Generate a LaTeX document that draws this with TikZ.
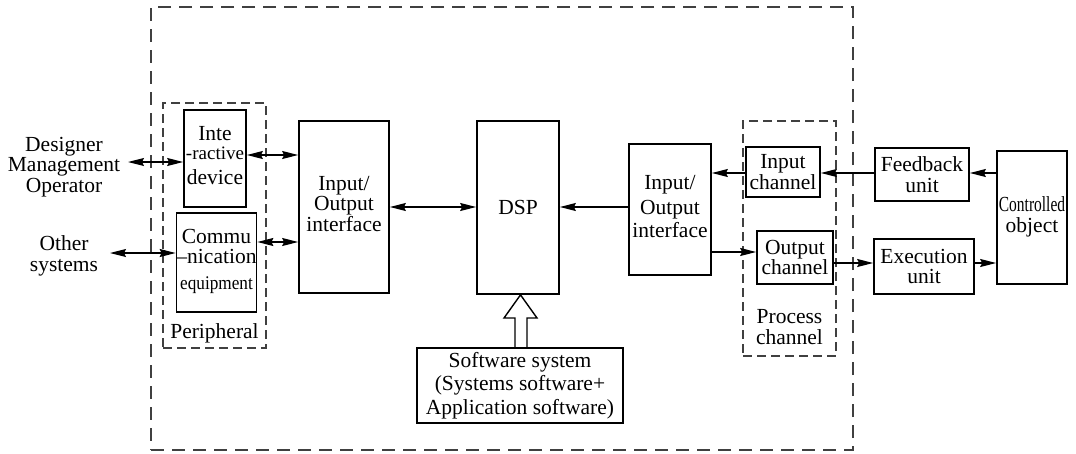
\documentclass[tikz,border=0pt]{standalone}
\usepackage{fontspec}
\setmainfont{Liberation Serif}
\usetikzlibrary{arrows.meta}
\newcommand{\stk}[2][0pt]{\raisebox{#1}{\begin{tabular}{@{}c@{}}#2\end{tabular}}}
\begin{document}
\begin{tikzpicture}[x=1pt,y=-1pt,
  blk/.style={draw, line width=1.7pt, inner sep=0pt, align=center, font=\fontsize{21.5}{20.5}\selectfont},
  lbl/.style={inner sep=0pt, align=center, font=\fontsize{21.5}{20.5}\selectfont},
  con/.style={line width=1.2pt, -{Stealth[length=16pt,width=8pt,inset=2pt]}},
  bicon/.style={line width=1.2pt, {Stealth[length=16pt,width=8pt,inset=2pt]}-{Stealth[length=16pt,width=8pt,inset=2pt]}},
  dashbox/.style={draw, line width=1.3pt, dash pattern=on 9pt off 5pt, color=black!75, inner sep=0pt},
  outerbox/.style={draw, line width=1.3pt, dash pattern=on 13pt off 8pt, color=black!75, inner sep=0pt}]
\useasboundingbox (0,0) rectangle (1076,453);

% dashed frames
\node[outerbox, minimum width=702pt, minimum height=443pt] (outer) at (502,228.5) {};
\node[dashbox, minimum width=103pt, minimum height=245pt] (periph) at (214.5,225.5) {};
\node[dashbox, minimum width=93pt, minimum height=235pt] (proc) at (789.5,238.5) {};
\node[lbl] (periphlbl) at (214.5,333) {Peripheral};
\node[lbl] (proclbl) at (789.5,327) {Process\\channel};

% external labels
\node[lbl] (users) at (64,167) {Designer\\Management\\Operator};
\node[lbl] (others) at (64,256) {Other\\systems};

% blocks
\node[blk, minimum width=62pt, minimum height=97pt] (inter) at (215,158.5)
  {\stk[5pt]{Inte\\[-1pt]{\fontsize{19}{20}\selectfont -ractive}\\[4pt]device}};
\node[blk, minimum width=79pt, minimum height=99pt] (comm) at (216.5,262.5)
  {\stk[-4pt]{Commu\\[-1pt]–nication\\[6pt]\scalebox{0.8}[0.9]{equipment}}};
\node[blk, minimum width=90pt, minimum height=172pt] (io1) at (344,207)
  {\stk[10pt]{Input/\\Output\\interface}};
\node[blk, minimum width=82pt, minimum height=173pt] (dsp) at (518,207.5) {DSP};
\node[blk, minimum width=82pt, minimum height=131pt] (io2) at (670,209.5)
  {\stk[2pt]{Input/\\[4pt]Output\\[2pt]interface}};
\node[blk, minimum width=74pt, minimum height=50pt] (inch) at (783,172) {Input\\channel};
\node[blk, minimum width=76pt, minimum height=53pt] (outch) at (795,257.5) {Output\\channel};
\node[blk, minimum width=94pt, minimum height=53pt] (fb) at (922,174.5) {Feedback\\unit};
\node[blk, minimum width=100pt, minimum height=55pt] (exe) at (924,266.5) {Execution\\unit};
\node[blk, minimum width=70pt, minimum height=133pt] (ctrl) at (1032,217.5)
  {\stk[-3pt]{\scalebox{0.72}[1]{Controlled}\\object}};
\node[blk, minimum width=206pt, minimum height=75pt, font=\fontsize{21.5}{23.5}\selectfont] (soft) at (520,385.5)
  {Software system\\(Systems software+\\Application software)};

% connectors
\coordinate (ue) at (128,162);
\coordinate (oe) at (110,253);
\draw[bicon] (ue) -- (ue -| inter.west);
\draw[bicon] (oe) -- (oe -| comm.west);
\draw[bicon] (inter.east |- 0,155) -- (io1.west |- 0,155);
\draw[bicon] (comm.east |- 0,242) -- (io1.west |- 0,242);
\draw[bicon] (io1.east |- 0,207) -- (dsp.west |- 0,207);
\draw[con] (io2.west |- 0,207) -- (dsp.east |- 0,207);
\draw[con] (inch.west |- 0,173) -- (io2.east |- 0,173);
\draw[con] (fb.west |- 0,173) -- (inch.east |- 0,173);
\draw[con] (ctrl.west |- 0,173) -- (fb.east |- 0,173);
\draw[con] (io2.east |- 0,252) -- (outch.west |- 0,252);
\draw[con] (outch.east |- 0,263) -- (exe.west |- 0,263);
\draw[con] (exe.east |- 0,263) -- (ctrl.west |- 0,263);

% hollow arrow from software to DSP
\draw[line width=1.4pt, line join=miter] (soft.north -| 515,0) -- (515,318) -- (504,318)
  -- (dsp.south -| 520.5,0) -- (537,318) -- (527,318) -- (soft.north -| 527,0);
\end{tikzpicture}
\end{document}
